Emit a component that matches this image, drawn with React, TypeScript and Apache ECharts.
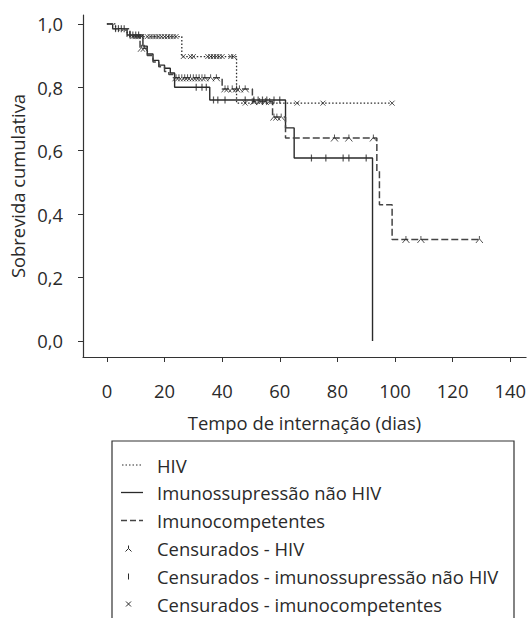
import React, { useEffect, useRef } from "react";
import * as echarts from "echarts";

// ---- data ----
const xTicks = [0, 20, 40, 60, 80, 100, 120, 140];
const yTicks = [0, 0.2, 0.4, 0.6, 0.8, 1.0];

// HIV (dotted)
const hivDays = [0, 3, 7, 26, 45, 99];
const hivSurv = [1.0, 0.98, 0.96, 0.897, 0.75, 0.75];
const hivCensDays = [9, 10, 11, 12, 14, 15, 16, 17, 18, 19, 20, 21, 22, 23, 24, 26.5, 29, 30, 35, 36, 37, 38, 39, 40, 43, 44, 48, 66, 75, 99];

// Imunossupressão não HIV (solid)
const imunoDays = [0, 2, 7, 12.5, 14, 16, 18, 20, 22, 23.5, 35.7, 62, 65, 92.2];
const imunoSurv = [1.0, 0.985, 0.965, 0.93, 0.905, 0.885, 0.87, 0.86, 0.845, 0.8, 0.76, 0.672, 0.577, 0];
const imunoCensDays = [3, 4, 5, 6, 8, 9, 10, 11, 31, 33, 34.5, 37, 38.5, 41, 48, 51, 52.5, 54, 55.5, 58, 60, 71, 76, 82, 84, 90];

// Imunocompetentes (dashed)
const compDays = [0, 2, 8, 11.5, 14, 16, 18, 20, 21.5, 23, 40, 50.5, 57.5, 62, 93.7, 94.6, 99, 129.3];
const compSurv = [1.0, 0.985, 0.96, 0.923, 0.9, 0.88, 0.865, 0.85, 0.84, 0.83, 0.795, 0.755, 0.706, 0.64, 0.535, 0.43, 0.32, 0.32];
const compCensDays = [12, 13, 24, 25, 26, 27, 28, 29, 30, 31, 32, 33, 34, 36, 38, 41, 42, 43.5, 45, 46, 48, 51, 53, 55, 56.5, 58, 59, 60.5, 79, 84, 92.5, 103.8, 109, 129.3];

const legendLabels = [
  "HIV",
  "Imunossupressão não HIV",
  "Imunocompetentes",
  "Censurados - HIV",
  "Censurados - imunossupressão não HIV",
  "Censurados - imunocompetentes",
];

const FONT = "Open Sans";
const INK = "#2a2a2a";

function survAt(days: number[], surv: number[], t: number) {
  let s = surv[0];
  for (let i = 0; i < days.length; i++) if (days[i] <= t) s = surv[i];
  return s;
}
const pairs = (d: number[], s: number[]) => d.map((v, i) => [v, s[i]]);
const cens = (d: number[], s: number[], c: number[]) => c.map((t) => [t, survAt(d, s, t)]);

const TRIPOD = "path://M0,10 L5,4 L10,10 M5,4 L5,0";
const CROSS = "path://M0,0 L10,10 M10,0 L0,10";

export default function App() {
  const ref = useRef<HTMLDivElement>(null);
  useEffect(() => {
    if (!ref.current) return;
    const chart = echarts.init(ref.current, null, { renderer: "svg" });
    const lx = 122, rx = 143, tx = 157;
    const rowY = [465, 492.5, 520.5, 548.5, 576.5, 604];
    const legendGraphics: any[] = [
      { type: "rect", shape: { x: 112, y: 441, width: 402, height: 200 }, style: { fill: "none", stroke: "#333", lineWidth: 1.2 } },
      { type: "line", shape: { x1: lx, y1: rowY[0], x2: rx, y2: rowY[0] }, style: { stroke: INK, lineWidth: 1.2, lineDash: [1.5, 2] } },
      { type: "line", shape: { x1: lx - 1, y1: rowY[1], x2: rx, y2: rowY[1] }, style: { stroke: INK, lineWidth: 1.3 } },
      { type: "line", shape: { x1: lx - 1, y1: rowY[2], x2: rx, y2: rowY[2] }, style: { stroke: "#444", lineWidth: 1.3, lineDash: [6, 3] } },
      { type: "polyline", shape: { points: [[125.5, rowY[3] + 3], [128.5, rowY[3]], [131.5, rowY[3] + 3]] }, style: { stroke: INK, lineWidth: 1, fill: "none" } },
      { type: "line", shape: { x1: 128.5, y1: rowY[3] - 3, x2: 128.5, y2: rowY[3] }, style: { stroke: INK, lineWidth: 1 } },
      { type: "line", shape: { x1: 128.5, y1: rowY[4] - 3, x2: 128.5, y2: rowY[4] + 3 }, style: { stroke: INK, lineWidth: 1 } },
      { type: "line", shape: { x1: 126, y1: rowY[5] - 2.5, x2: 131, y2: rowY[5] + 2.5 }, style: { stroke: INK, lineWidth: 1 } },
      { type: "line", shape: { x1: 131, y1: rowY[5] - 2.5, x2: 126, y2: rowY[5] + 2.5 }, style: { stroke: INK, lineWidth: 1 } },
    ];
    legendLabels.forEach((t, i) => {
      legendGraphics.push({
        type: "text",
        x: tx,
        y: rowY[i],
        style: { text: t, fill: INK, font: `18.4px '${FONT}'`, textVerticalAlign: "middle", textAlign: "left" },
      });
    });

    chart.setOption({
      animation: false,
      textStyle: { fontFamily: FONT },
      grid: { left: 83, right: 2, top: 15, bottom: 261 },
      xAxis: {
        type: "value",
        min: -8.3,
        max: 145.5,
        axisLine: { show: true, onZero: false, lineStyle: { color: "#333", width: 1.2 } },
        axisTick: { show: true, length: 5, customValues: xTicks, lineStyle: { color: "#333" } },
        axisLabel: { customValues: xTicks, fontSize: 18.4, color: INK, margin: 24, fontFamily: FONT },
        splitLine: { show: false },
        name: "Tempo de internação (dias)",
        nameLocation: "middle",
        nameGap: 56,
        nameTextStyle: { fontSize: 18.4, color: INK, fontFamily: FONT },
      },
      yAxis: {
        type: "value",
        min: -0.0505,
        max: 1.028,
        axisLine: { show: true, onZero: false, lineStyle: { color: "#333", width: 1.2 } },
        axisTick: { show: true, length: 5, customValues: yTicks, lineStyle: { color: "#333" } },
        axisLabel: {
          customValues: yTicks,
          fontSize: 18.4,
          color: INK,
          margin: 20,
          fontFamily: FONT,
          formatter: (v: number) => v.toFixed(1).replace(".", ","),
        },
        splitLine: { show: false },
        name: "Sobrevida cumulativa",
        nameLocation: "middle",
        nameRotate: 90,
        nameGap: 57,
        nameTextStyle: { fontSize: 18.4, color: INK, fontFamily: FONT },
      },
      series: [
        {
          name: legendLabels[0], type: "line", step: "end", symbol: "none",
          data: pairs(hivDays, hivSurv),
          lineStyle: { color: INK, width: 1.3, type: [1.5, 2] },
        },
        {
          name: legendLabels[1], type: "line", step: "end", symbol: "none",
          data: pairs(imunoDays, imunoSurv),
          lineStyle: { color: INK, width: 1.4, type: "solid" },
        },
        {
          name: legendLabels[2], type: "line", step: "end", symbol: "none",
          data: pairs(compDays, compSurv),
          lineStyle: { color: "#444", width: 1.5, type: [7, 3] },
        },
        {
          name: "cens-hiv", type: "scatter", symbol: CROSS, symbolSize: 5,
          data: cens(hivDays, hivSurv, hivCensDays),
          itemStyle: { color: "rgba(0,0,0,0)", borderColor: INK, borderWidth: 1 },
          z: 5,
        },
        {
          name: "cens-imuno", type: "scatter", symbol: "rect", symbolSize: [1.2, 7],
          data: cens(imunoDays, imunoSurv, imunoCensDays),
          itemStyle: { color: INK },
          z: 5,
        },
        {
          name: "cens-comp", type: "scatter", symbol: TRIPOD, symbolSize: [7, 7],
          data: cens(compDays, compSurv, compCensDays),
          itemStyle: { color: "rgba(0,0,0,0)", borderColor: INK, borderWidth: 1 },
          z: 5,
        },
      ],
      graphic: legendGraphics,
    });
    return () => chart.dispose();
  }, []);
  return <div ref={ref} style={{ position: "absolute", left: 0, top: 0, width: 529, height: 618 }} />;
}
